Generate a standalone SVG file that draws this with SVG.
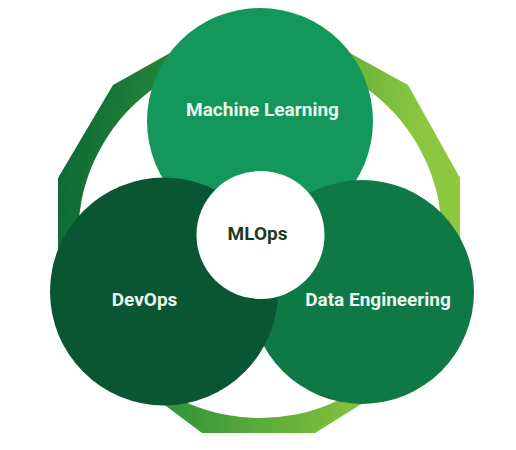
<svg xmlns="http://www.w3.org/2000/svg" width="516" height="450" viewBox="0 0 516 450">
  <defs>
    <linearGradient id="ringGrad" gradientUnits="userSpaceOnUse" x1="58" y1="200" x2="460" y2="260">
      <stop offset="0" stop-color="#0d6b37"/>
      <stop offset="0.4" stop-color="#3a9a38"/>
      <stop offset="0.85" stop-color="#8cc63f"/>
      <stop offset="1" stop-color="#8fc93f"/>
    </linearGradient>
    <style>
      .lbl { font-family: Roboto, "Liberation Sans", Arial, sans-serif; font-weight: bold; font-size: 19px; text-anchor: middle; fill: #eaf7ee; }
      .core { fill: #1f3a1c; }
    </style>
  </defs>
  <rect width="516" height="450" fill="#ffffff"/>
  <g id="ring">
    <path fill="url(#ringGrad)" fill-rule="evenodd" d="M211,30 L308,30 L408,85 L460,178 L460,290 L400,380 L315,433 L202,433 L118,370 L58,290 L58,178 L113,85 Z M78,236 a182,182 0 1,0 364,0 a182,182 0 1,0 -364,0 Z"/>
  </g>
  <g id="machine-learning">
    <circle cx="260" cy="121" r="113" fill="#13975a"/>
    <text class="lbl" x="262.5" y="116">Machine Learning</text>
  </g>
  <g id="data-engineering">
    <circle cx="362" cy="292" r="112" fill="#0f7945"/>
    <text class="lbl" x="378" y="306">Data Engineering</text>
  </g>
  <g id="devops">
    <circle cx="164" cy="291.5" r="114" fill="#0a5633"/>
    <text class="lbl" x="144.5" y="306">DevOps</text>
  </g>
  <g id="mlops">
    <circle cx="260.5" cy="235" r="64" fill="#ffffff"/>
    <text class="lbl core" x="257.5" y="240">MLOps</text>
  </g>
</svg>
